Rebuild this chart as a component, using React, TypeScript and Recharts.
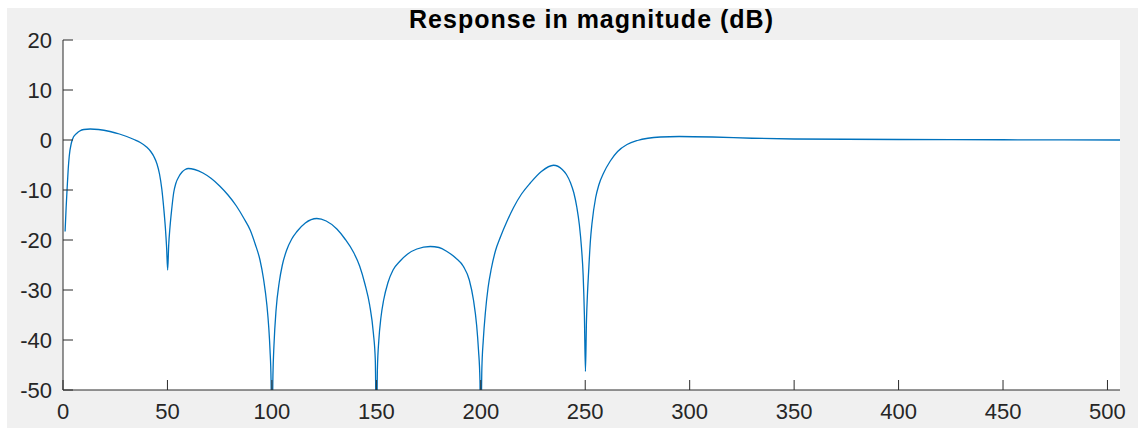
import { LineChart, Line, XAxis, YAxis, CartesianGrid } from 'recharts'

// frequency bins (x) and response in dB (y)
const FREQ = [
  1, 1.5, 2, 2.5, 3, 4, 5, 6.5, 8, 10, 13, 17, 22.5, 27, 30.5, 34, 37, 40, 42, 43.5, 45, 46.2, 47.3, 48.2, 49, 49.6,
  50.1, 50.6, 51.2, 52, 53, 54, 55.5, 57, 58.5, 60, 63, 67, 71, 75, 79, 83, 86.5, 89.6, 92, 94.3, 96, 97.6, 98.5, 99.1,
  99.6, 100, 100.5, 101, 102, 103.5, 105, 107, 109.5, 112, 116, 121.5, 126, 131.1, 135, 139, 142,
  144.6, 146.8, 148.6, 149.5, 150.1, 150.5, 151.2, 152.2, 153.5, 155.5, 158, 161.4, 165, 169.4, 175.8, 180, 183.8, 188,
  191.7, 194.5, 196.5, 198, 198.9, 199.6, 200, 200.5, 201.2, 202.2, 203.5, 205, 207, 209.5, 212.5, 215.7, 219.5, 223.7,
  229, 234.8, 239, 241, 243, 244.5, 246, 247.2, 248.2, 249, 249.6, 250.1, 250.6, 251.1, 251.6, 252.5, 253.2, 255, 256.5,
  258.8, 262, 265.5, 270, 275, 280, 286, 295, 311, 330, 350, 400, 450, 506,
]

const MAG_DB = [
  -18.3, -13.5, -9.5, -5.8, -3.2, -0.6, 0.6, 1.3, 1.8, 2.1, 2.2, 2.1, 1.7, 1.2, 0.7, 0.1, -0.5, -1.4, -2.3, -3.3, -4.8,
  -6.8, -9.8, -13.5, -17.5, -21.5, -26, -21, -17.5, -14, -10.5, -8.7, -7.3, -6.4, -5.9, -5.7, -5.9, -6.6, -7.7, -9.2,
  -11, -13.2, -15.6, -18, -20.8, -24, -27.8, -33, -37.5, -42, -48, -62, -47, -41, -34, -28.5, -25, -22.1, -19.8, -18.3,
  -16.6, -15.7, -16.2, -17.8, -19.8, -22.4, -25.2, -28.9, -33, -38.7, -44, -62, -46, -40, -35.5, -32, -28.6, -26, -24.2,
  -22.8, -21.8, -21.3, -21.5, -22.3, -23.6, -25.3, -28, -32, -37, -42, -48, -62, -46, -40, -34.5, -29.5, -25.8, -22.2,
  -19.3, -16.3, -13.5, -10.8, -8.6, -6.3, -5.05, -5.9, -6.9, -8.6, -10.5, -13.5, -17, -21.5, -27, -35, -46.3, -36, -30.5,
  -26.5, -20, -16.8, -11.5, -9, -6.6, -4.2, -2.3, -0.9, -0.1, 0.35, 0.6, 0.7, 0.6, 0.35, 0.2, 0.1, 0.05, 0,
]

const X_TICKS = [0, 50, 100, 150, 200, 250, 300, 350, 400, 450, 500]
const Y_TICKS = [-50, -40, -30, -20, -10, 0, 10, 20]

const data = FREQ.map((f, i) => ({ f, db: MAG_DB[i] }))

const AXIS = '#2b2b2b'
const FONT = '"Liberation Sans", Arial, Helvetica, sans-serif'
const TICK_LEN = 10

// MATLAB-style inward ticks drawn together with the labels
const BottomTick = (p: any) => (
  <g>
    <line x1={p.x} x2={p.x} y1={p.y - 13} y2={p.y - 13 - TICK_LEN} stroke={AXIS} />
    <text x={p.x} y={p.y} dy="0.71em" textAnchor="middle" fontSize={22} fill="#262626" fontFamily={FONT}>
      {p.payload.value}
    </text>
  </g>
)

const LeftTick = (p: any) => (
  <g>
    <line x1={p.x + 11} x2={p.x + 11 + TICK_LEN} y1={p.y} y2={p.y} stroke={AXIS} />
    <text x={p.x} y={p.y} dy="0.36em" textAnchor="end" fontSize={22} fill="#262626" fontFamily={FONT}>
      {p.payload.value}
    </text>
  </g>
)

const TopTick = (p: any) => <line x1={p.x} x2={p.x} y1={p.y} y2={p.y + TICK_LEN} stroke={AXIS} />
const RightTick = (p: any) => <line x1={p.x} x2={p.x - TICK_LEN} y1={p.y} y2={p.y} stroke={AXIS} />

export default function App() {
  return (
    <div style={{ position: 'relative', width: 1138, height: 428, background: '#fff', overflow: 'hidden' }}>
      <style>{'body{margin:0;overflow:hidden}'}</style>
      <div style={{ position: 'absolute', left: 7, top: 8, width: 1131, height: 420, background: '#f0f0f0' }}>
        <LineChart width={1131} height={420} data={data} margin={{ top: 32, right: 18, bottom: 0, left: 0 }}>
          <CartesianGrid horizontal={false} vertical={false} fill="#ffffff" xAxisId="bottom" yAxisId="left" />
          <XAxis
            xAxisId="bottom"
            dataKey="f"
            type="number"
            domain={[0, 506]}
            ticks={X_TICKS}
            interval={0}
            allowDataOverflow
            height={38}
            tickSize={0}
            tickMargin={13}
            axisLine={{ stroke: AXIS }}
            tick={BottomTick}
          />
          <XAxis
            xAxisId="top"
            orientation="top"
            dataKey="f"
            type="number"
            domain={[0, 506]}
            ticks={X_TICKS}
            interval={0}
            allowDataOverflow
            height={0}
            tickSize={0}
            tickMargin={0}
            axisLine={{ stroke: AXIS }}
            tick={TopTick}
          />
          <YAxis
            yAxisId="left"
            type="number"
            domain={[-50, 20]}
            ticks={Y_TICKS}
            interval={0}
            allowDataOverflow
            width={56}
            tickSize={0}
            tickMargin={11}
            axisLine={{ stroke: AXIS }}
            tick={LeftTick}
          />
          <YAxis
            yAxisId="right"
            orientation="right"
            type="number"
            domain={[-50, 20]}
            ticks={Y_TICKS}
            interval={0}
            allowDataOverflow
            width={0}
            tickSize={0}
            tickMargin={0}
            axisLine={{ stroke: AXIS }}
            tick={RightTick}
          />
          {/* invisible copy so the box axes have a series bound to them */}
          <Line
            xAxisId="top"
            yAxisId="right"
            dataKey="db"
            stroke="none"
            dot={false}
            isAnimationActive={false}
          />
          <Line
            xAxisId="bottom"
            yAxisId="left"
            type="monotone"
            dataKey="db"
            stroke="#0072bd"
            strokeWidth={1.3}
            dot={false}
            activeDot={false}
            isAnimationActive={false}
          />
        </LineChart>
      </div>
      <div
        style={{
          position: 'absolute',
          left: 63,
          top: 5,
          width: 1057,
          textAlign: 'center',
          fontFamily: FONT,
          fontWeight: 'bold',
          fontSize: 25,
          letterSpacing: 1,
          lineHeight: '28px',
          color: '#000',
        }}
      >
        Response in magnitude (dB)
      </div>
    </div>
  )
}
